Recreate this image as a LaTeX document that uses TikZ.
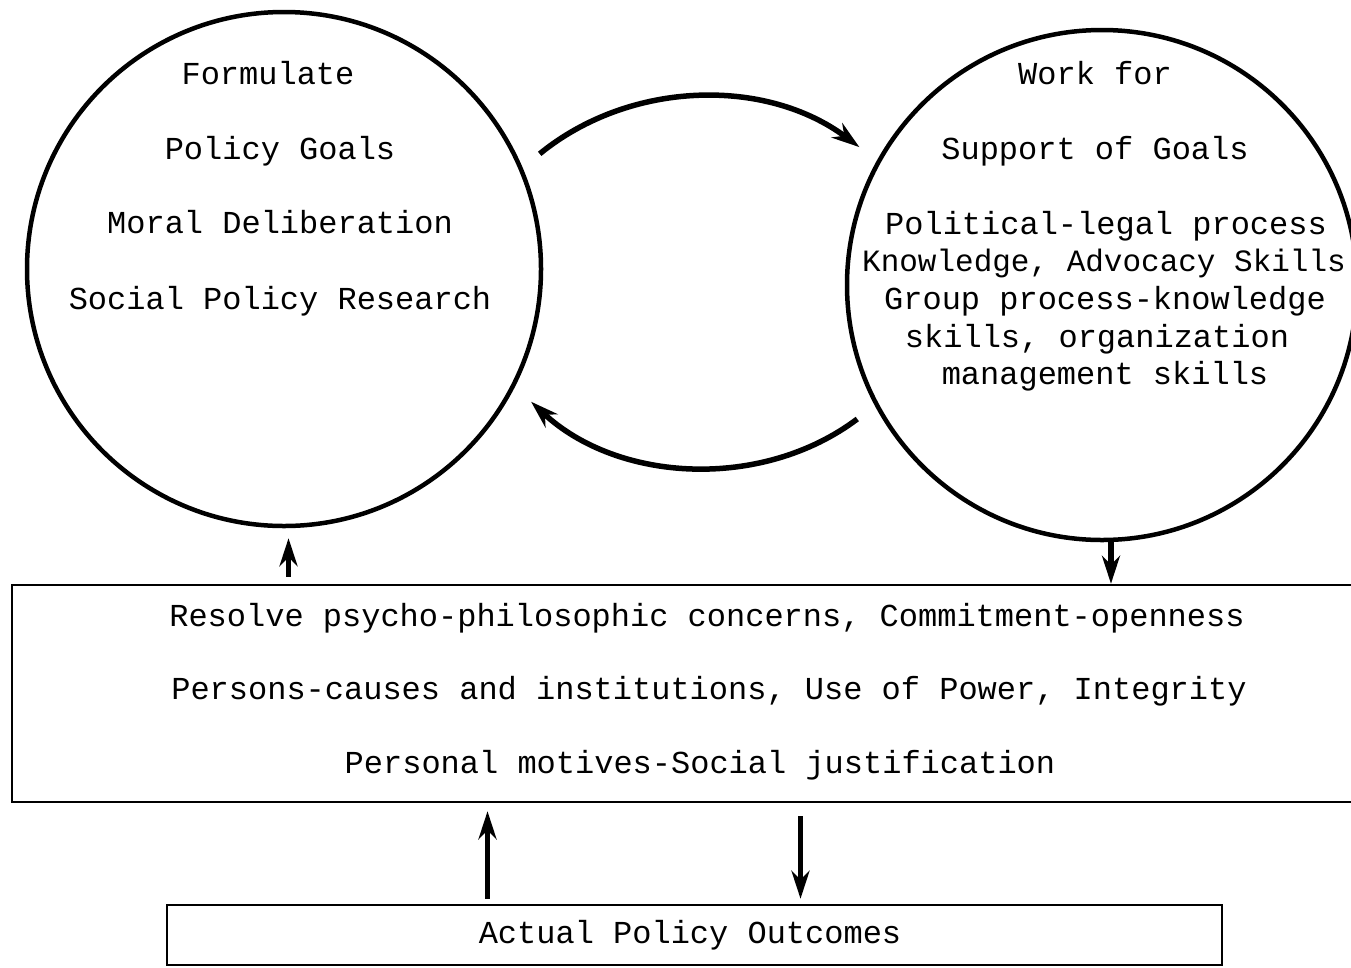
\documentclass[tikz,border=0pt]{standalone}
\usepackage{fontspec}
\setmonofont{Liberation Mono}
\usetikzlibrary{arrows.meta}

\tikzset{
  txt/.style={font=\ttfamily\fontsize{32}{37}\selectfont, anchor=base, inner sep=0pt},
  ring/.style={draw, circle, line width=4.5pt, minimum size=514pt, inner sep=0pt},
  panel/.style={draw, rectangle, line width=2.5pt, inner sep=0pt},
  flow/.style={line width=5.5pt, -{Stealth[length=28pt,width=18pt]}},
}

\begin{document}
\begin{tikzpicture}[x=1pt, y=1pt]
  \useasboundingbox (0,0) rectangle (1351,-967);
  \clip (0,0) rectangle (1351,-967);
  % Circles
  \node[ring] (goals) at (284,-269) {}; %
  \node[ring, minimum size=510pt] (support) at (1102,-285) {}; %
  % Boxes
  \node[panel, minimum width=1353pt, minimum height=217pt] (issues) at (688.5,-693.5) {}; %
  \node[panel, minimum width=1055pt, minimum height=60pt] (outcome) at (694.5,-935) {}; %
  % Left circle text
  \node[txt] (formulate) at (268,-84) {Formulate}; %
  \node[txt] (policygoals) at (280,-159) {Policy Goals}; %
  \node[txt] (moral) at (280,-233) {Moral Deliberation}; %
  \node[txt] (research) at (280,-309) {Social Policy Research}; %
  % Right circle text
  \node[txt] (workfor) at (1095,-84) {Work for}; %
  \node[txt] (supportgoals) at (1095,-159) {Support of Goals}; %
  \node[txt] (political) at (1106,-234) {Political-legal process}; %
  \node[txt, font=\ttfamily\fontsize{31}{37}\selectfont] (knowledge) at (1104,-271) {Knowledge, Advocacy Skills}; %
  \node[txt] (group) at (1105,-309) {Group process-knowledge}; %
  \node[txt] (skills) at (1097,-347) {skills, organization}; %
  \node[txt] (management) at (1105,-384) {management skills}; %
  % Box text
  \node[txt] (resolve) at (707,-626) {Resolve psycho-philosophic concerns, Commitment-openness}; %
  \node[txt] (persons) at (709,-699) {Persons-causes and institutions, Use of Power, Integrity}; %
  \node[txt] (motives) at (700,-773) {Personal motives-Social justification}; %
  \node[txt] (actual) at (690,-943) {Actual Policy Outcomes}; %
  % Connectors
  \draw[flow, shorten <=22pt, shorten >=22pt] (goals.23.5) to[bend left=38] (support.151); %
  \draw[flow, shorten <=22pt, shorten >=22pt] (support.208) to[bend left=40] (goals.-27); %
  \draw[flow, shorten <=7pt, shorten >=10pt] (issues.north -| goals.-89) -- (goals.-89); %
  \draw[flow] (support.-88) -- (issues.north -| support.-88); %
  \draw[flow, shorten <=5pt, shorten >=8pt] ([xshift=-207pt]outcome.north) -- ([xshift=-207pt]outcome.north |- issues.south); %
  \draw[flow, shorten <=13pt, shorten >=5pt] ([xshift=106pt]outcome.north |- issues.south) -- ([xshift=106pt]outcome.north); %
\end{tikzpicture}
\end{document}
